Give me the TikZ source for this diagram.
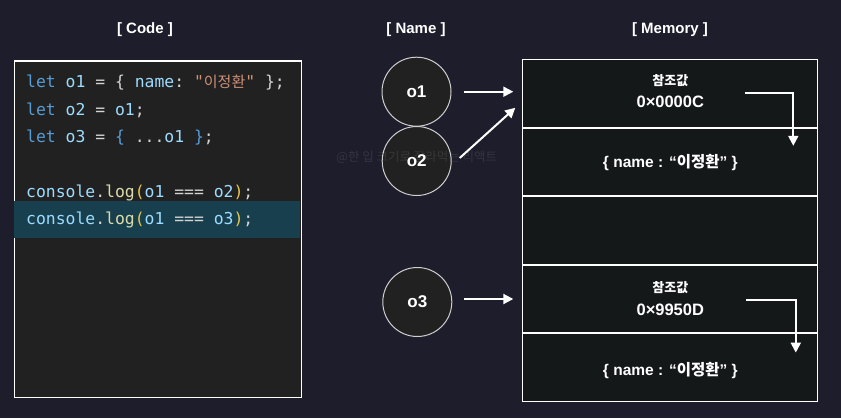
\documentclass[tikz,border=0pt]{standalone}
\usepackage{fontspec}
\setmonofont{DejaVu Sans Mono}
\newfontfamily\kr{Noto Sans CJK KR}
\newfontfamily\lat{Liberation Sans}
\usetikzlibrary{arrows.meta,calc}
\definecolor{bg}{HTML}{1E1D2B}
\definecolor{codebg}{HTML}{212121}
\definecolor{hl}{HTML}{183F4D}
\definecolor{membg}{HTML}{151819}
\definecolor{ckw}{HTML}{569CD6}
\definecolor{cvar}{HTML}{9CDCFE}
\definecolor{cop}{HTML}{D4D4D4}
\definecolor{cstr}{HTML}{CE9178}
\definecolor{cfn}{HTML}{DCDCAA}
\definecolor{cbr}{HTML}{E6C84A}
\definecolor{cring}{HTML}{CFCFCF}
\tikzset{
  header/.style={text=white,font=\lat\bfseries\fontsize{15}{16}\selectfont,inner sep=0pt},
  codeline/.style={anchor=base west,inner sep=0pt,font=\ttfamily\fontsize{16.4}{18}\selectfont,text=cop},
  var/.style={circle,minimum size=69pt,inner sep=0pt,fill=codebg,draw=cring,line width=1pt,text=white,font=\lat\bfseries\fontsize{17}{18}\selectfont},
  memrow/.style={rectangle,minimum width=295pt,minimum height=67.5pt,inner sep=0pt,draw=white,line width=1pt,fill=membg},
  reflbl/.style={text=white,inner sep=0pt,font=\kr\bfseries\fontsize{13}{15}\selectfont},
  addr/.style={text=white,inner sep=0pt,font=\lat\bfseries\fontsize{16.5}{18}\selectfont},
  objlbl/.style={text=white,inner sep=0pt,font=\lat\bfseries\fontsize{15.5}{17}\selectfont},
  arr/.style={draw=white,line width=2pt,-{Triangle[length=10pt,width=10pt]}},
}
\begin{document}
\begin{tikzpicture}[x=1pt,y=-1pt]
\fill[bg] (0,0) rectangle (841,418);
\useasboundingbox (0,0) rectangle (841,418);
% headers
\node[header] (hcode) at (145,30) {[ Code ]};
\node[header] (hname) at (416,30) {[ Name ]};
\node[header] (hmem) at (670,30) {[ Memory ]};
% code box
\node[rectangle,draw=white,line width=1.3pt,fill=codebg,minimum width=287pt,minimum height=336.5pt,inner sep=0pt,anchor=north west] (code) at (13.6,60.2) {};
\fill[hl] (14.3,201) rectangle (300,237.7);
\node[codeline] (l1) at (26,87.5) {\textcolor{ckw}{let} \textcolor{cvar}{o1} = \{ \textcolor{cvar}{name}: \textcolor{cstr}{"{\kr\fontsize{15}{18}\selectfont 이정환}"} \};};
\node[codeline] (l2) at (26,115) {\textcolor{ckw}{let} \textcolor{cvar}{o2} = \textcolor{cvar}{o1};};
\node[codeline] (l3) at (26,142.5) {\textcolor{ckw}{let} \textcolor{cvar}{o3} = \textcolor{ckw}{\{} ...\textcolor{cvar}{o1} \textcolor{ckw}{\}};};
\node[codeline] (l5) at (26,197.2) {\textcolor{cvar}{console}.\textcolor{cfn}{log}\textcolor{cbr}{(}\textcolor{cvar}{o1} === \textcolor{cvar}{o2}\textcolor{cbr}{)};};
\node[codeline] (l6) at (26,224.5) {\textcolor{cvar}{console}.\textcolor{cfn}{log}\textcolor{cbr}{(}\textcolor{cvar}{o1} === \textcolor{cvar}{o3}\textcolor{cbr}{)};};
% memory rows
\node[memrow,anchor=north west] (m1) at (522.3,59.3) {};
\node[memrow,anchor=north] (m2) at (m1.south) {};
\node[memrow,anchor=north] (m3) at (m2.south) {};
\node[memrow,anchor=north] (m4) at (m3.south) {};
\node[memrow,anchor=north] (m5) at (m4.south) {};
\node[reflbl] (r1) at ([yshift=13.4pt]m1.center) {참조값};
\node[addr] (a1) at ([yshift=-8.5pt]m1.center) {0×0000C};
\node[objlbl] (ob1) at (m2.center) {\{ name : “{\kr\bfseries 이정환}” \}};
\node[reflbl] (r4) at ([yshift=11pt]m4.center) {참조값};
\node[addr] (a4) at ([yshift=-10.7pt]m4.center) {0×9950D};
\node[objlbl] (ob5) at ([yshift=-3pt]m5.center) {\{ name : “{\kr\bfseries 이정환}” \}};
% variables
\node[var] (o1) at (416.5,91.7) {o1};
\node[var] (o2) at (416.7,161) {o2};
\node[var] (o3) at (417.3,302) {o3};
% watermark
\node[text=white,opacity=0.10,inner sep=0pt,font=\kr\fontsize{12.5}{14}\selectfont] (wm) at (416.7,157) {@한 입 크기로 잘라먹는 리액트};
% connectors
\coordinate (p1) at ([xshift=12pt]o1.east);
\draw[arr] (p1) -- ([xshift=-9pt]m1.west |- p1);
\draw[arr] ([xshift=8pt,yshift=3pt]o2.east) -- ([xshift=-7pt,yshift=20pt]m1.south west);
\coordinate (p3) at ([xshift=12pt,yshift=3pt]o3.east);
\draw[arr] (p3) -- ([xshift=-9pt]m4.west |- p3);
\coordinate (s1) at ([xshift=74.5pt,yshift=1pt]m1.center);
\draw[arr] (s1) -| ([xshift=123pt,yshift=-18pt]m2.north);
\coordinate (s4) at ([xshift=76pt,yshift=-0.7pt]m4.center);
\draw[arr] (s4) -| ([xshift=125.5pt,yshift=-19.3pt]m5.north);
\end{tikzpicture}
\end{document}
